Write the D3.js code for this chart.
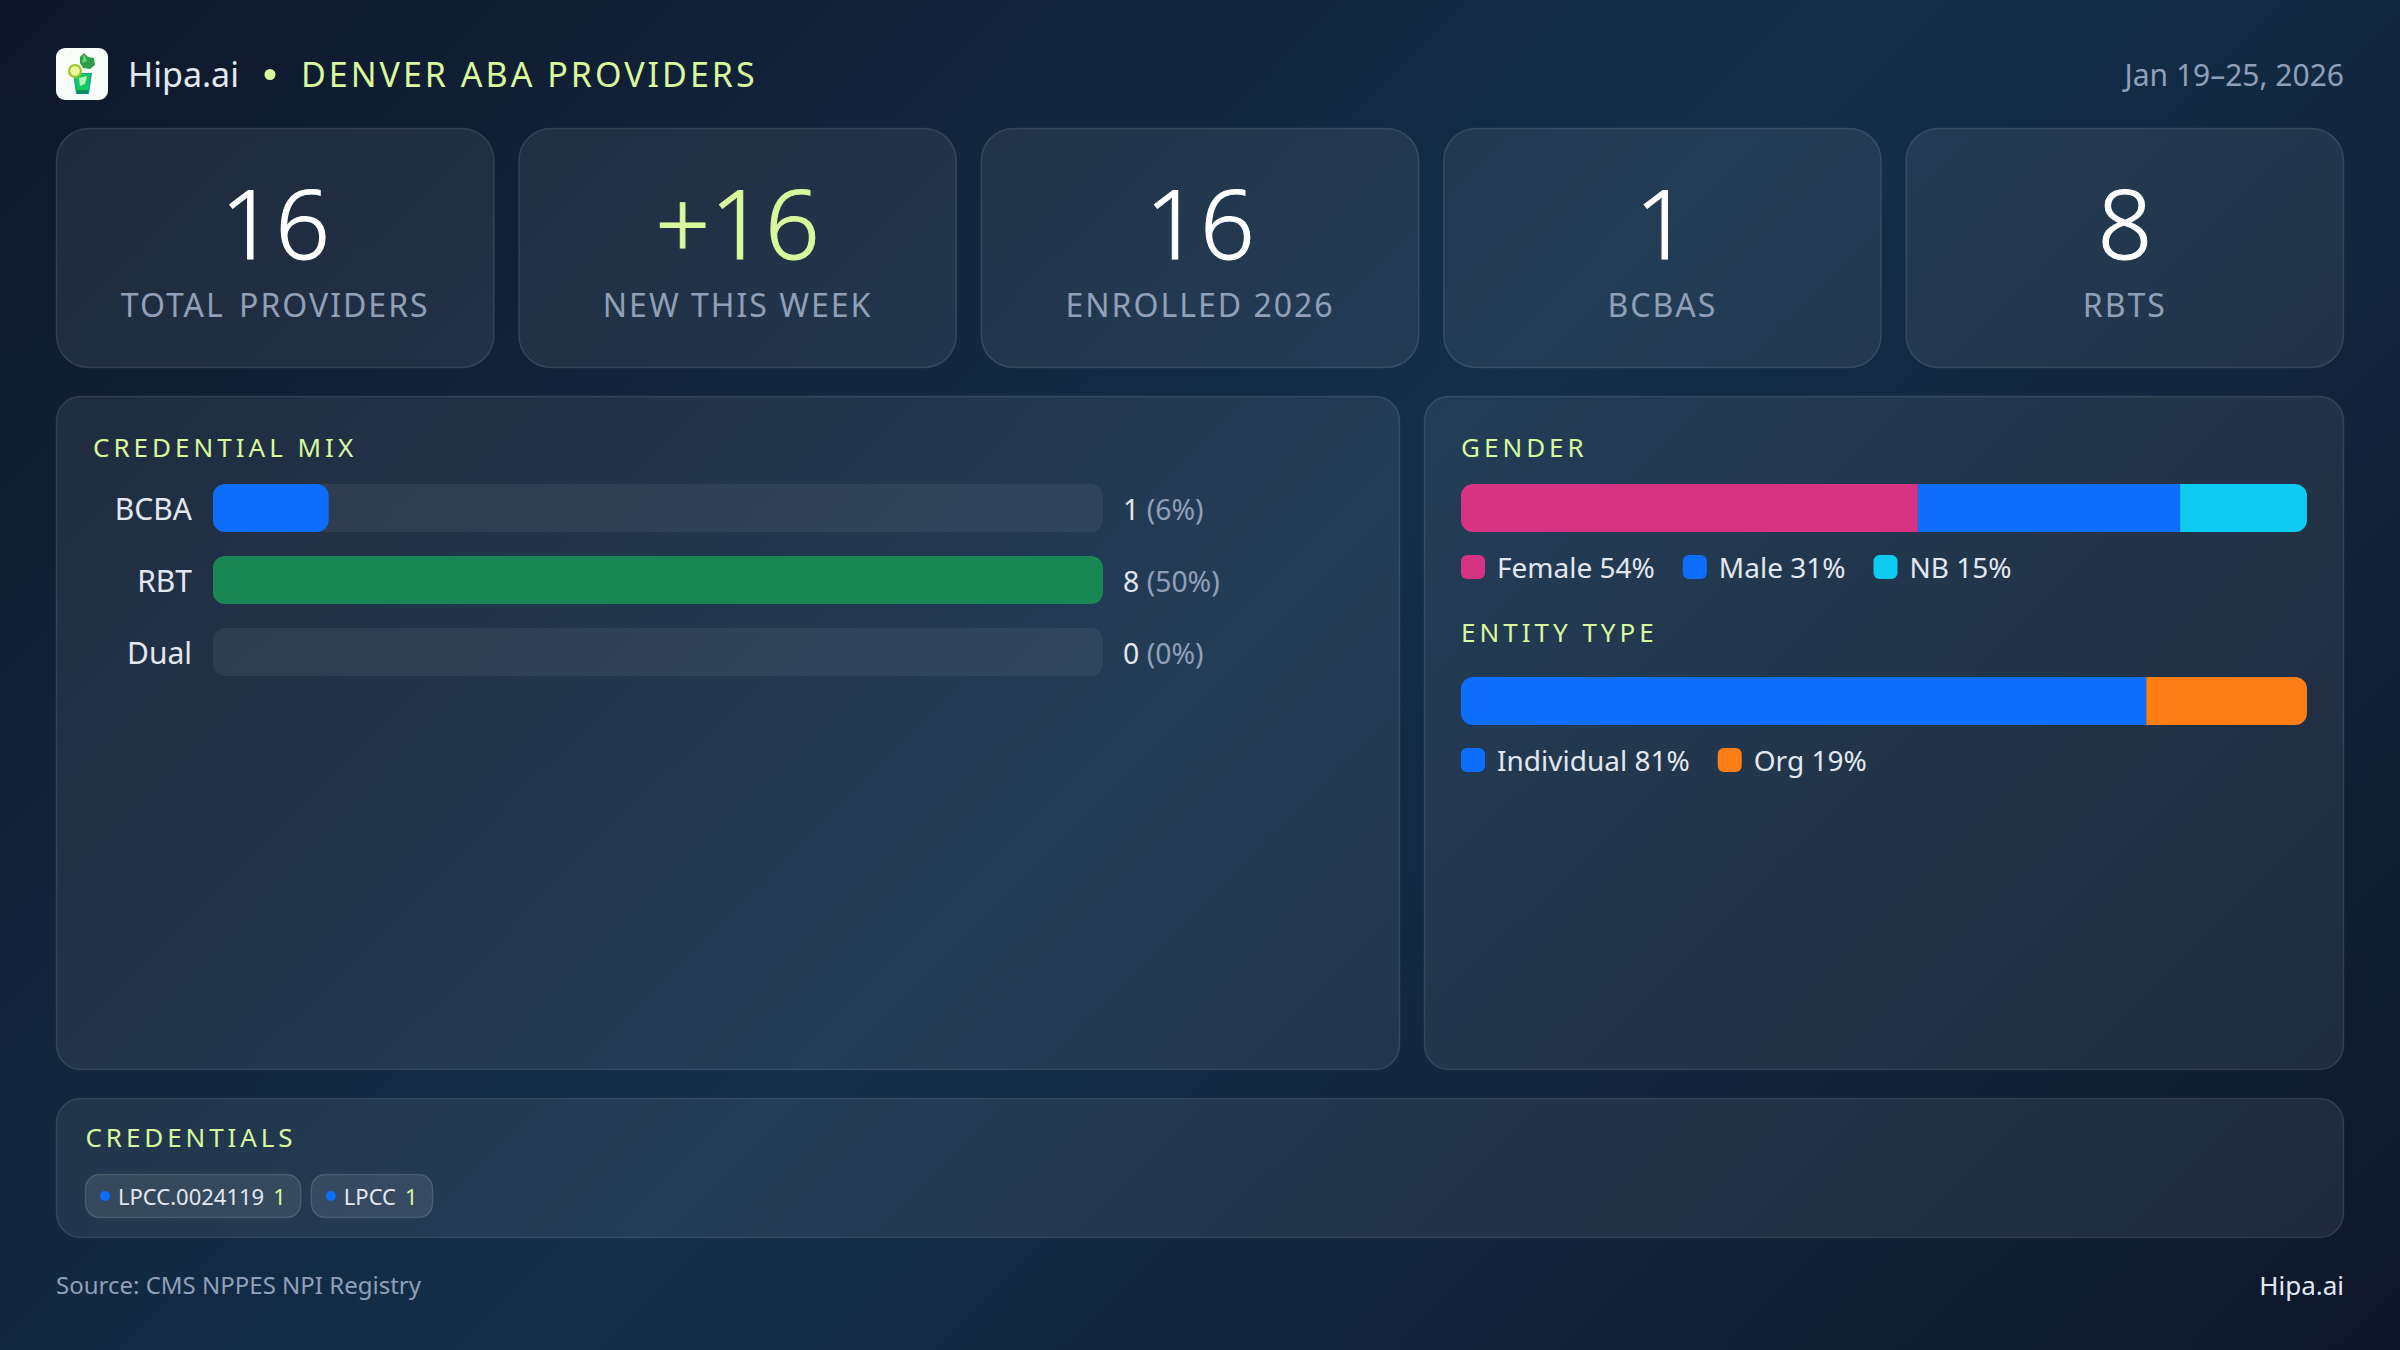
<!DOCTYPE html>
<html>
<head>
<meta charset="utf-8">
<script src="https://cdn.jsdelivr.net/npm/d3@7"></script>
<style>
  html, body { margin: 0; padding: 0; }
  body {
    width: 2400px; height: 1350px; overflow: hidden;
    background: linear-gradient(135deg, #0f172a 0%, #132f4a 50%, #0f172a 100%);
    font-family: "Noto Sans", sans-serif;
  }
  svg { display: block; }
  text { font-family: "Noto Sans", sans-serif; }
</style>
</head>
<body>
<div id="chart"></div>
<script>
// Chart values
const statValues = ["16", "+16", "16", "1", "8"];
const statLabels = ["TOTAL PROVIDERS", "NEW THIS WEEK", "ENROLLED 2026", "BCBAS", "RBTS"];

const credCategories = ["BCBA", "RBT", "Dual"];
const credCounts = [1, 8, 0];
const credPercents = [6, 50, 0];
const credBarShare = [13, 100, 0];
const credColors = ["#0d6efd", "#198754", "#0d6efd"];

const genderLabels = ["Female", "Male", "NB"];
const genderPercents = [54, 31, 15];
const genderColors = ["#d63384", "#0d6efd", "#0dcaf0"];

const entityLabels = ["Individual", "Org"];
const entityPercents = [81, 19];
const entityColors = ["#0d6efd", "#fd7e14"];

const chipLabels = ["LPCC.0024119", "LPCC"];
const chipCounts = [1, 1];

// Colors used around the page
const lime = "#d9f99d";
const muted = "#8fa0b8";
const light = "#e2e8f0";
const panelFill = "rgba(255,255,255,0.07)";
const panelStroke = "rgba(255,255,255,0.12)";

const svg = d3.select("#chart")
              .append("svg")
              .attr("width", 2400)
              .attr("height", 1350);

function addText(parent, str, x, y, size, color, anchor, spacing) {
  return parent.append("text")
               .attr("x", x)
               .attr("y", y)
               .attr("font-size", size)
               .attr("fill", color)
               .attr("text-anchor", anchor || "start")
               .attr("letter-spacing", spacing || 0)
               .text(str);
}

function addPanel(x, y, w, h, r) {
  svg.append("rect")
     .attr("x", x + 0.5).attr("y", y + 0.5)
     .attr("width", w - 1).attr("height", h - 1)
     .attr("rx", r)
     .attr("fill", panelFill)
     .attr("stroke", panelStroke)
     .attr("stroke-width", 1.5);
}

// Header icon, a small mojito glass
const icon = svg.append("g").attr("transform", "translate(56,48)");
icon.append("rect").attr("width", 52).attr("height", 52).attr("rx", 9).attr("fill", "#f8fdf9");
icon.append("path").attr("d", "M24 15 L24 9 L28 5 L32 9 L38 10 L39 17 L34 21 L27 20 Z").attr("fill", "#2e9e4a");
icon.append("path").attr("d", "M28 6 L31 13 L26 15 Z").attr("fill", "#6bd66b");
icon.append("path").attr("d", "M17 25 L36 25 L33 46 L20 46 Z").attr("fill", "#0fa896");
icon.append("path").attr("d", "M19 26 L34 26 L32 43 L21 43 Z").attr("fill", "#16c95c");
icon.append("path").attr("d", "M23 30 L31 28 L29 36 L24 38 Z").attr("fill", "#b5f5bd");
icon.append("path").attr("d", "M21 42 L32 42 L32 46 L21 46 Z").attr("fill", "#0c8f5c");
icon.append("circle").attr("cx", 19).attr("cy", 23).attr("r", 7).attr("fill", "#9cc72a");
icon.append("circle").attr("cx", 19).attr("cy", 23).attr("r", 4.8).attr("fill", "#eef59a");

// Header text
addText(svg, "Hipa.ai", 128, 87, 34, light);
svg.append("circle").attr("cx", 270).attr("cy", 74.5).attr("r", 5.5).attr("fill", lime);
addText(svg, "DENVER ABA PROVIDERS", 301, 87, 34, lime, "start", 3);
addText(svg, "Jan 19–25, 2026", 2344, 86, 30, muted, "end");

// Stat cards
const cardX = d3.scaleBand()
                .domain(d3.range(statValues.length))
                .range([56, 2344])
                .paddingInner(24 / 462.4);

statValues.forEach(function(v, i) {
  const x = cardX(i);
  const w = cardX.bandwidth();
  const color = i === 1 ? lime : "#ffffff";
  addPanel(x, 128, w, 240, 32);
  // light face with a thin stroke, sits between the installed weights
  addText(svg, v, x + w / 2, 259, 96, color, "middle")
    .attr("font-weight", 300)
    .attr("stroke", color)
    .attr("stroke-width", 1);
  addText(svg, statLabels[i], x + w / 2, 317, 32, muted, "middle", 2)
    .attr("word-spacing", i === 0 ? 4 : 0);
});

// Credential mix panel
addPanel(56, 396, 1344, 674, 24);
addText(svg, "CREDENTIAL MIX", 93, 457, 26, lime, "start", 4);

const credY = d3.scaleBand()
                .domain(credCategories)
                .range([484, 676])
                .paddingInner(1 / 3);
const credX = d3.scaleLinear().domain([0, 100]).range([0, 890]);

const credRows = svg.append("g")
                    .attr("transform", "translate(213,0)")
                    .selectAll("g")
                    .data(credCategories)
                    .enter()
                    .append("g")
                    .attr("transform", function(d) { return "translate(0," + credY(d) + ")"; });

credRows.append("rect")
        .attr("width", credX(100))
        .attr("height", credY.bandwidth())
        .attr("rx", 12)
        .attr("fill", "rgba(255,255,255,0.06)");

credRows.append("rect")
        .attr("width", function(d, i) { return credX(credBarShare[i]); })
        .attr("height", credY.bandwidth())
        .attr("rx", 12)
        .attr("fill", function(d, i) { return credColors[i]; });

credRows.append("text")
        .attr("x", -21)
        .attr("y", 36)
        .attr("text-anchor", "end")
        .attr("font-size", 30)
        .attr("fill", light)
        .text(function(d) { return d; });

const credValues = credRows.append("text")
                           .attr("x", credX(100) + 20)
                           .attr("y", 35.5)
                           .attr("font-size", 28.4)
                           .attr("fill", light)
                           .text(function(d, i) { return credCounts[i] + " "; });
credValues.append("tspan")
          .attr("fill", muted)
          .text(function(d, i) { return "(" + credPercents[i] + "%)"; });

// Right panel with the two stacked bars
addPanel(1424, 396, 920, 674, 24);

function stackedBar(title, titleY, barY, labels, percents, colors, clipId) {
  addText(svg, title, 1461, titleY, 26, lime, "start", 4);

  const x = d3.scaleLinear().domain([0, 100]).range([1461, 2307]);
  const starts = [0].concat(Array.from(d3.cumsum(percents)));

  svg.append("clipPath")
     .attr("id", clipId)
     .append("rect")
     .attr("x", x(0)).attr("y", barY)
     .attr("width", x(100) - x(0)).attr("height", 48)
     .attr("rx", 12);

  svg.append("g")
     .attr("clip-path", "url(#" + clipId + ")")
     .selectAll("rect")
     .data(percents)
     .enter()
     .append("rect")
     .attr("x", function(d, i) { return x(starts[i]); })
     .attr("y", barY)
     .attr("width", function(d) { return x(d) - x(0); })
     .attr("height", 48)
     .attr("fill", function(d, i) { return colors[i]; });

  // legend flows left to right after the text is measured
  let cursor = 1461;
  labels.forEach(function(label, i) {
    svg.append("rect")
       .attr("x", cursor).attr("y", barY + 71)
       .attr("width", 24).attr("height", 24)
       .attr("rx", 6)
       .attr("fill", colors[i]);
    const t = addText(svg, label + " " + percents[i] + "%", cursor + 36, barY + 94, 28, light);
    cursor = cursor + 36 + t.node().getComputedTextLength() + 28;
  });
}

stackedBar("GENDER", 457, 484, genderLabels, genderPercents, genderColors, "clipGender");
stackedBar("ENTITY TYPE", 642, 677, entityLabels, entityPercents, entityColors, "clipEntity");

// Credentials strip
addPanel(56, 1098, 2288, 140, 24);
addText(svg, "CREDENTIALS", 85.5, 1147, 26, lime, "start", 3.9);

let chipX = 85;
chipLabels.forEach(function(label, i) {
  const chip = svg.append("g").attr("transform", "translate(" + chipX + ",1174)");
  const bg = chip.append("rect")
                 .attr("x", 0.5).attr("y", 0.5)
                 .attr("height", 43)
                 .attr("rx", 14)
                 .attr("fill", "rgba(255,255,255,0.09)")
                 .attr("stroke", "rgba(255,255,255,0.14)")
                 .attr("stroke-width", 1.5);
  chip.append("circle").attr("cx", 20).attr("cy", 22).attr("r", 5).attr("fill", "#0d6efd");
  const t = addText(chip, label, 33, 31, 22, light);
  const labelEnd = 33 + t.node().getComputedTextLength();
  const c = addText(chip, chipCounts[i], labelEnd + 9, 31, 22, lime);
  const w = labelEnd + 9 + c.node().getComputedTextLength() + 15.5;
  bg.attr("width", w - 1);
  chipX = chipX + w + 9.5;
});

// Footer
addText(svg, "Source: CMS NPPES NPI Registry", 56, 1294, 24, muted);
addText(svg, "Hipa.ai", 2344, 1295, 26, light, "end");
</script>
</body>
</html>
